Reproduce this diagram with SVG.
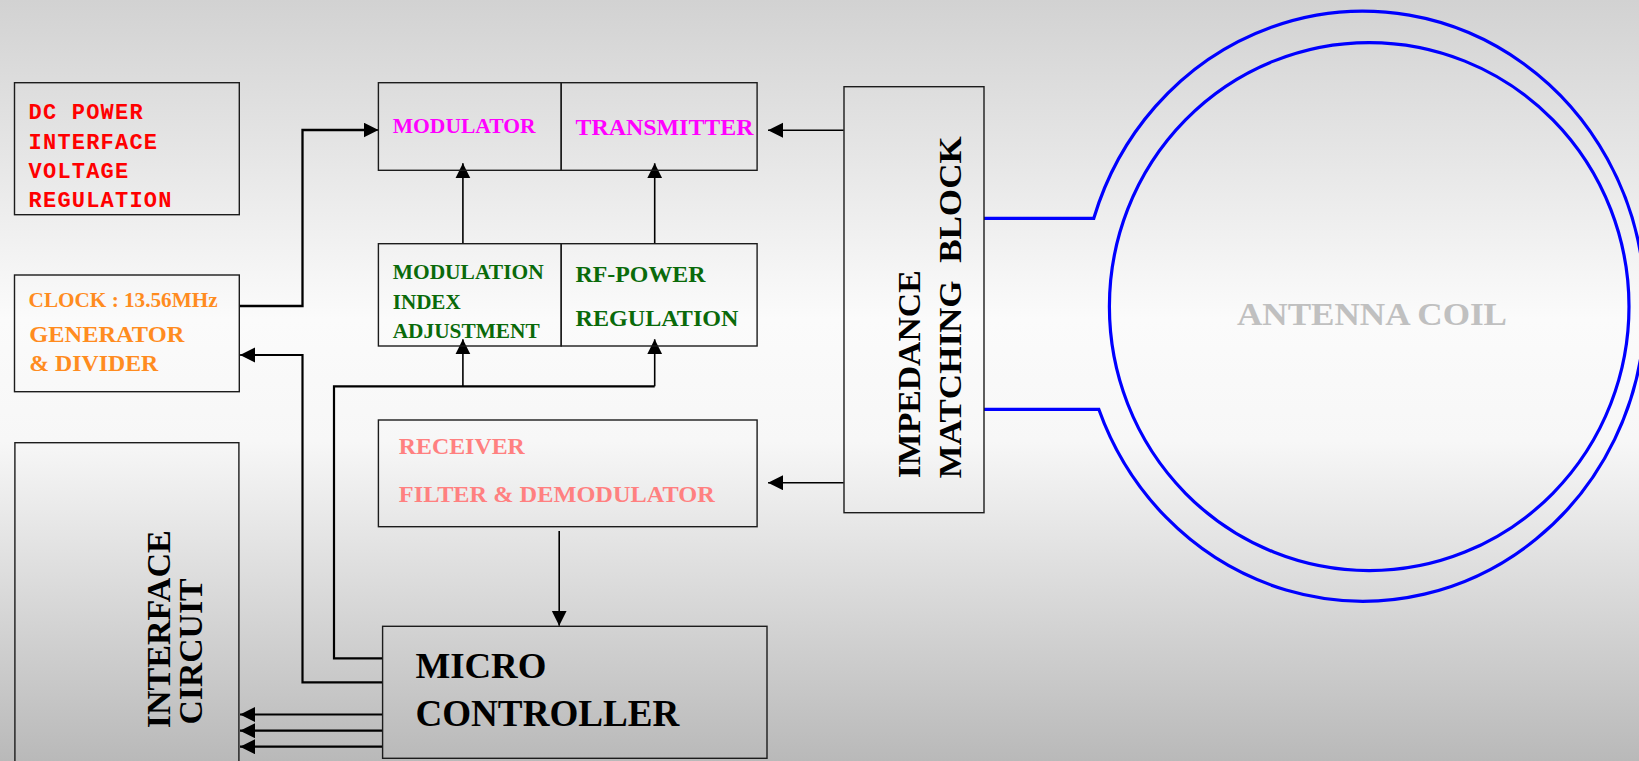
<svg xmlns="http://www.w3.org/2000/svg" width="1639" height="761" viewBox="0 0 1639 761">
<defs>
<linearGradient id="bg" x1="0" y1="0" x2="0" y2="1">
<stop offset="0" stop-color="#d2d2d2"/>
<stop offset="0.42" stop-color="#fbfbfb"/>
<stop offset="0.58" stop-color="#f7f7f7"/>
<stop offset="1" stop-color="#b9b9b9"/>
</linearGradient>
<marker id="ah" markerUnits="userSpaceOnUse" markerWidth="16" markerHeight="16" refX="15" refY="7.5" orient="auto">
<path d="M0,0 L15,7.5 L0,15 z" fill="#000"/>
</marker>
<style>
.box{fill:none;stroke:#1c1c1c;stroke-width:1.4}
.t{font-family:"Liberation Serif","Times New Roman",serif;font-weight:bold}
.m{font-family:"Liberation Mono","Courier New",monospace;font-weight:bold;font-size:22px;letter-spacing:1.2px;fill:#ff0000}
.c{fill:none;stroke:#000;stroke-width:2.2}
.a{fill:none;stroke:#000;stroke-width:1.6;marker-end:url(#ah)}
.coil{fill:none;stroke:#0000ff;stroke-width:3.2}
</style>
</defs>
<rect x="0" y="0" width="1639" height="761" fill="url(#bg)"/>

<g id="connectors">
<path class="c" d="M239.3,306 H302.5 V130 H365" style="stroke-width:2.3"/>
<path class="a" d="M365,130 H378.5"/>
<path class="c" d="M383,682.3 H302.5 V355 H254"/>
<path class="a" d="M256,355 H240"/>
<path class="c" d="M383,658.3 H334 V386.3 H654.7"/>
<path class="a" d="M462.9,386.3 V339.3"/>
<path class="a" d="M654.7,386.3 V339.3"/>
<path class="a" d="M462.9,243.7 V163.3"/>
<path class="a" d="M654.7,243.7 V163.3"/>
<path class="a" d="M843.7,130.3 H768"/>
<path class="a" d="M843.7,482.7 H768"/>
<path class="a" d="M559.2,531 V625.7"/>
<path class="a" d="M383,714.5 H240" style="stroke-width:2.2"/>
<path class="a" d="M383,730.7 H240" style="stroke-width:2.2"/>
<path class="a" d="M383,746.7 H240" style="stroke-width:2.2"/>
<path class="coil" d="M984,218.3 H1093.8 A282,295 0 1 1 1098.8,409.3 H984"/>
</g>

<g id="dc-power">
<rect class="box" x="14.5" y="82.7" width="224.8" height="132"/>
<text class="m" x="28.6" y="119.3">DC POWER</text>
<text class="m" x="28.6" y="149">INTERFACE</text>
<text class="m" x="28.6" y="178">VOLTAGE</text>
<text class="m" x="28.6" y="206.7">REGULATION</text>
</g>

<g id="clock">
<rect class="box" x="14.5" y="275" width="224.8" height="116.7"/>
<text class="t" x="28.6" y="306.7" font-size="21.5" fill="#ff8c1f" textLength="189" lengthAdjust="spacingAndGlyphs">CLOCK : 13.56MHz</text>
<text class="t" x="29.3" y="341.7" font-size="24" fill="#ff8c1f" textLength="155" lengthAdjust="spacingAndGlyphs">GENERATOR</text>
<text class="t" x="29.3" y="370.7" font-size="24" fill="#ff8c1f" textLength="129" lengthAdjust="spacingAndGlyphs">&amp; DIVIDER</text>
</g>

<g id="modulator">
<rect class="box" x="378.4" y="82.7" width="182.8" height="87.6"/>
<text class="t" x="392.7" y="132.7" font-size="21" fill="#ff00ff" textLength="143" lengthAdjust="spacingAndGlyphs">MODULATOR</text>
</g>

<g id="transmitter">
<rect class="box" x="561.2" y="82.7" width="195.9" height="87.6"/>
<text class="t" x="575.5" y="135" font-size="24" fill="#ff00ff" textLength="178" lengthAdjust="spacingAndGlyphs">TRANSMITTER</text>
</g>

<g id="modulation-index">
<rect class="box" x="378.4" y="243.7" width="182.8" height="102.3"/>
<text class="t" x="392.7" y="279.3" font-size="22" fill="#0a6a0a" textLength="151" lengthAdjust="spacingAndGlyphs">MODULATION</text>
<text class="t" x="392.7" y="309" font-size="22" fill="#0a6a0a" textLength="68" lengthAdjust="spacingAndGlyphs">INDEX</text>
<text class="t" x="392.7" y="337.7" font-size="22" fill="#0a6a0a" textLength="147" lengthAdjust="spacingAndGlyphs">ADJUSTMENT</text>
</g>

<g id="rf-power">
<rect class="box" x="561.2" y="243.7" width="195.9" height="102.3"/>
<text class="t" x="575.5" y="281.7" font-size="23.5" fill="#0a6a0a" textLength="130" lengthAdjust="spacingAndGlyphs">RF-POWER</text>
<text class="t" x="575.5" y="326" font-size="23.5" fill="#0a6a0a" textLength="163" lengthAdjust="spacingAndGlyphs">REGULATION</text>
</g>

<g id="receiver">
<rect class="box" x="378.4" y="420" width="378.7" height="106.7"/>
<text class="t" x="398.8" y="454.3" font-size="24" fill="#ff8080" textLength="126" lengthAdjust="spacingAndGlyphs">RECEIVER</text>
<text class="t" x="398.8" y="501.7" font-size="24" fill="#ff8080" textLength="316" lengthAdjust="spacingAndGlyphs">FILTER &amp; DEMODULATOR</text>
</g>

<g id="impedance">
<rect class="box" x="844" y="86.7" width="140" height="426"/>
<text class="t" transform="translate(919.5,478.3) rotate(-90)" font-size="31" fill="#000" textLength="208" lengthAdjust="spacingAndGlyphs">IMPEDANCE</text>
<text class="t" transform="translate(960.5,478.3) rotate(-90)" font-size="31" fill="#000" textLength="342" lengthAdjust="spacingAndGlyphs" style="white-space:pre">MATCHING  BLOCK</text>
</g>

<g id="interface">
<rect class="box" x="14.9" y="442.7" width="224" height="330"/>
<text class="t" transform="translate(169.5,728.3) rotate(-90)" font-size="33" fill="#000" textLength="198" lengthAdjust="spacingAndGlyphs">INTERFACE</text>
<text class="t" transform="translate(201.5,724.5) rotate(-90)" font-size="33" fill="#000" textLength="146" lengthAdjust="spacingAndGlyphs">CIRCUIT</text>
</g>

<g id="microcontroller">
<rect class="box" x="382.6" y="626.3" width="384.4" height="132"/>
<text class="t" x="415.4" y="678.3" font-size="36.5" fill="#000" textLength="131" lengthAdjust="spacingAndGlyphs">MICRO</text>
<text class="t" x="415.4" y="726" font-size="37" fill="#000" textLength="264" lengthAdjust="spacingAndGlyphs">CONTROLLER</text>
</g>

<g id="antenna-coil">
<ellipse class="coil" cx="1369.2" cy="306.6" rx="259.8" ry="264"/>
<text class="t" x="1237" y="325" font-size="32" fill="#c0c0c0" textLength="270" lengthAdjust="spacingAndGlyphs">ANTENNA COIL</text>
</g>
</svg>
